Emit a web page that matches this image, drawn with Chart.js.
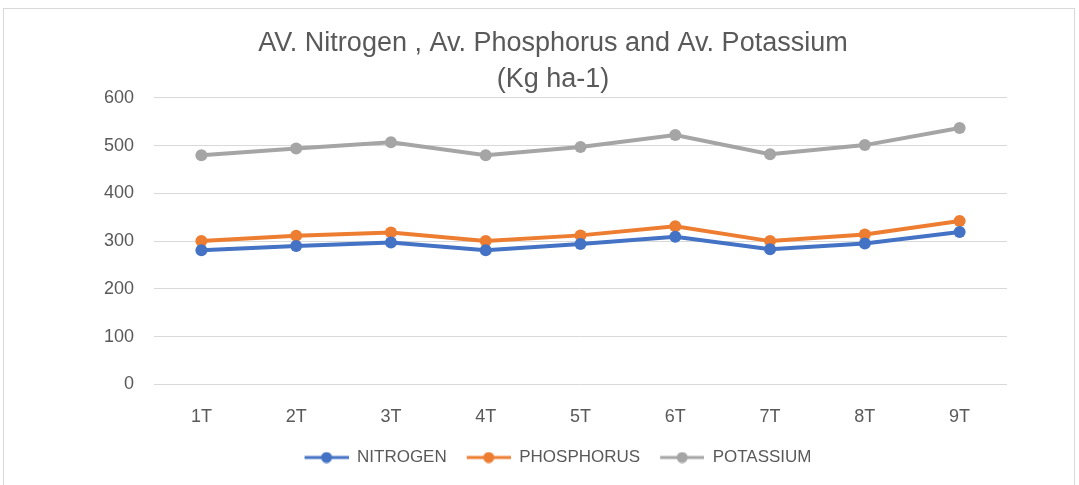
<!DOCTYPE html>
<html>
<head>
<meta charset="utf-8">
<script src="https://cdn.jsdelivr.net/npm/chart.js@4/dist/chart.umd.min.js"></script>
<style>
  html, body { margin: 0; padding: 0; background: #fff; }
  #box {
    position: absolute; left: 3px; top: 8px; width: 1070px; height: 477px;
    border: 1px solid #d9d9d9; border-bottom: none; background: #fff;
  }
  canvas { display: block; }
</style>
</head>
<body>
<div id="box"><canvas id="chart" width="1070" height="477"></canvas></div>
<script>
// Dữ liệu biểu đồ
const labels = ['1T', '2T', '3T', '4T', '5T', '6T', '7T', '8T', '9T'];
const nitrogen = [281, 290, 297, 281, 294, 309, 283, 295, 319];
const phosphorus = [300, 311, 318, 300, 312, 331, 300, 314, 342];
const potassium = [480, 494, 507, 480, 497, 522, 482, 501, 537];

const colors = { n: '#4472C4', p: '#ED7D31', k: '#A5A5A5' };
const textColor = '#595959';
const fontFamily = '"Liberation Sans", Arial, sans-serif';

// Ký hiệu chú thích: đoạn thẳng + chấm tròn (chừa 10px trống bên trái làm khoảng cách)
function legendIcon(color) {
  const c = document.createElement('canvas');
  c.width = 54; c.height = 12;
  const g = c.getContext('2d');
  g.strokeStyle = color; g.lineWidth = 3;
  g.beginPath(); g.moveTo(10, 6); g.lineTo(54, 6); g.stroke();
  g.fillStyle = color;
  g.beginPath(); g.arc(32, 6, 5.5, 0, Math.PI * 2); g.fill();
  return c;
}

function series(label, data, color) {
  return {
    label: label,
    data: data,
    borderColor: color,
    backgroundColor: color,
    borderWidth: 4,
    pointRadius: 6,
    pointHoverRadius: 6,
    pointBorderWidth: 0,
    tension: 0,
    icon: legendIcon(color)
  };
}

const ctx = document.getElementById('chart').getContext('2d');
new Chart(ctx, {
  type: 'line',
  data: {
    labels: labels,
    datasets: [
      series('NITROGEN', nitrogen, colors.n),
      series('PHOSPHORUS', phosphorus, colors.p),
      series('POTASSIUM', potassium, colors.k)
    ]
  },
  options: {
    responsive: false,
    animation: false,
    layout: { padding: { left: 95, right: 67, bottom: 10 } },
    plugins: {
      title: {
        display: true,
        text: ['AV. Nitrogen , Av. Phosphorus and Av. Potassium', '(Kg ha-1)'],
        color: textColor,
        font: { family: fontFamily, size: 27, weight: 'normal', lineHeight: 1.33 },
        padding: { top: 17, bottom: 0 }
      },
      legend: {
        position: 'bottom',
        labels: {
          color: textColor,
          font: { family: fontFamily, size: 17 },
          usePointStyle: true,
          pointStyleWidth: 54,
          boxHeight: 16,
          padding: 10,
          generateLabels: chart => chart.data.datasets.map((ds, i) => ({
            text: ds.label,
            pointStyle: ds.icon,
            fontColor: textColor,
            strokeStyle: ds.borderColor,
            fillStyle: ds.backgroundColor,
            lineWidth: 0,
            datasetIndex: i
          }))
        }
      },
      tooltip: { enabled: false }
    },
    scales: {
      x: {
        offset: true,
        afterFit: scale => { scale.height -= 11; },
        grid: { display: false, drawTicks: false },
        border: { display: false },
        ticks: { color: textColor, font: { family: fontFamily, size: 18 }, padding: 22 }
      },
      y: {
        min: 0,
        max: 600,
        afterFit: scale => { scale.width = 55; },
        grid: { color: '#d9d9d9', lineWidth: 1, drawTicks: false },
        border: { display: false },
        ticks: { stepSize: 100, color: textColor, font: { family: fontFamily, size: 18 }, padding: 20 }
      }
    }
  }
});
</script>
</body>
</html>
